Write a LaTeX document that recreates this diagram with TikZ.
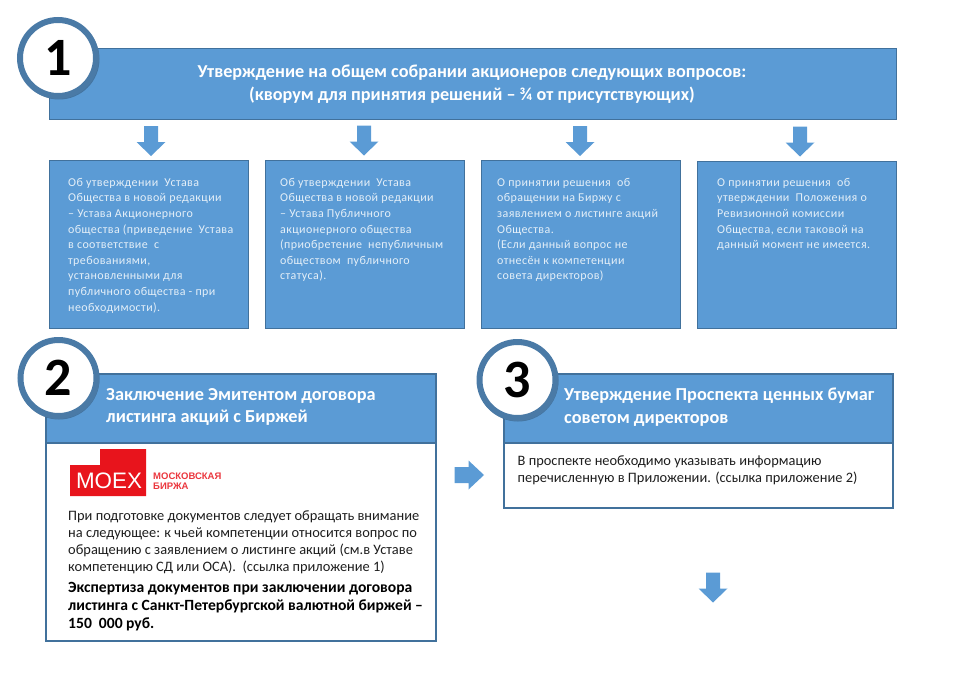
\documentclass[tikz,border=0pt]{standalone}
\usepackage{fontspec}
\setmainfont{Carlito}
\newfontfamily\spaced[LetterSpace=3.3]{Carlito}
\newfontfamily\logofont{Liberation Sans}
\definecolor{bluefill}{HTML}{5B9BD5}
\definecolor{blueedge}{HTML}{41719C}
\definecolor{ringblue}{HTML}{4A7AA6}
\definecolor{paletext}{HTML}{E4EFF8}
\definecolor{bodytext}{HTML}{1E1E1E}
\definecolor{moexred}{HTML}{E8141C}
\tikzset{
  bluebox/.style={rectangle,fill=bluefill,draw=blueedge,line width=.8pt,inner sep=0pt,anchor=north west},
  framebox/.style={rectangle,fill=white,draw=blueedge,line width=2.4pt,inner sep=0pt,anchor=north west},
  headbox/.style={rectangle,fill=bluefill,draw=blueedge,line width=2.4pt,inner sep=0pt,anchor=north west},
  ring/.style={circle,fill=white,draw=ringblue,line width=6pt,minimum size=76pt,inner sep=0pt,text=black,
     font=\fontsize{54}{54}\selectfont\bfseries},
  ringshadow/.style={circle,fill=blueedge!75!black,opacity=.55,minimum size=81pt,inner sep=0pt},
  head/.style={text=white,inner sep=0pt,align=left,anchor=north west,font=\fontsize{18.3}{22.5}\selectfont\bfseries},
  small/.style={text=paletext,inner sep=0pt,align=left,anchor=north west,font=\spaced\fontsize{12}{15.6}\selectfont},
  body/.style={text=bodytext,inner sep=0pt,align=left,anchor=north west,font=\fontsize{14.4}{17.3}\selectfont},
  boldbody/.style={text=black,inner sep=0pt,align=left,anchor=north west,font=\fontsize{15.6}{18}\selectfont\bfseries},
  downarrow/.pic={\fill[bluefill] (-7,-15) -- (7,-15) -- (7,1) -- (14.5,1) -- (0,15) -- (-14.5,1) -- (-7,1) -- cycle;},
  rightarrow/.pic={\fill[bluefill] (-15,-8) -- (-1,-8) -- (-1,-14.5) -- (14.5,0) -- (-1,14.5) -- (-1,8) -- (-15,8) -- cycle;},
}
\begin{document}
\begin{tikzpicture}[x=1pt,y=-1pt]
\useasboundingbox (0,0) rectangle (957,682);
% top bar
\node[bluebox,minimum width=847pt,minimum height=71pt] (bar) at (49,48) {};
\node[text=white,inner sep=0pt,align=center,font=\fontsize{18.2}{22.5}\selectfont\bfseries] (bartext) at (472,84)
  {Утверждение на общем собрании акционеров следующих вопросов:\\(кворум для принятия решений – ¾ от присутствующих)};
% small boxes
\node[bluebox,minimum width=199pt,minimum height=168pt] (b1) at (49,160) {};
\node[bluebox,minimum width=199pt,minimum height=168pt] (b2) at (265,160) {};
\node[bluebox,minimum width=199pt,minimum height=168pt] (b3) at (481,160) {};
\node[bluebox,minimum width=199pt,minimum height=167pt] (b4) at (697,161) {};
\node[small] (t1) at (68,178) {Об утверждении~~Устава\\Общества в новой~редакции\\– Устава Акционерного\\общества (приведение~~Устава\\в соответствие~~с\\требованиями,\\установленными для\\публичного общества~- при\\необходимости).};
\node[small] (t2) at (280,178) {Об утверждении~~Устава\\Общества в новой~редакции\\– Устава Публичного\\акционерного общества\\(приобретение~~непубличным\\обществом~~публичного\\статуса).};
\node[small] (t3) at (497,178) {О принятии решения~~об\\обращении на Биржу с\\заявлением о листинге акций\\Общества.\\(Если данный вопрос не\\отнесён к компетенции\\совета директоров)};
\node[small] (t4) at (717,178) {О принятии решения~~об\\утверждении~~Положения о\\Ревизионной комиссии\\Общества, если таковой на\\данный момент не имеется.};
% arrows
\pic (a1) at (151,141) {downarrow};
\pic (a2) at (364,140.5) {downarrow};
\pic (a3) at (580,141) {downarrow};
\pic (a4) at (800,141.5) {downarrow};
\pic (a5) at (469.5,475) {rightarrow};
\pic (a6) at (713,587.5) {downarrow};
% panel 2
\node[framebox,minimum width=390pt,minimum height=267.5pt] (p2) at (45,372.5) {};
\node[headbox,minimum width=390pt,minimum height=69.5pt] (h2) at (45,372.5) {};
\node[head] (h2t) at (106,388) {Заключение Эмитентом договора\\листинга акций с Биржей};
\fill[moexred] (70,465) -- (100,465) -- (100,449) -- (146,449) -- (146,496) -- (70,496) -- cycle;
\node[inner sep=0pt,text=white,font=\logofont\fontsize{22.4}{22.4}\selectfont] (moex) at (109,481) {MOEX};
\node[inner sep=0pt,text=moexred!85!white,align=left,anchor=west,font=\logofont\bfseries\fontsize{9.5}{10}\selectfont] (moextext) at (153,481) {МОСКОВСКАЯ\\БИРЖА};
\node[body] (p2t) at (68,510) {При подготовке документов следует обращать внимание\\на следующее: к чьей компетенции относится вопрос по\\обращению с заявлением о листинге акций (см.в Уставе\\компетенцию СД или ОСА).~~(ссылка приложение 1)};
\node[boldbody] (p2b) at (68,582) {Экспертиза документов при заключении договора\\листинга с Санкт-Петербургской валютной биржей –\\150~~000 руб.};
% panel 3
\node[framebox,minimum width=389pt,minimum height=134pt] (p3) at (503,372.5) {};
\node[headbox,minimum width=389pt,minimum height=69.5pt] (h3) at (503,372.5) {};
\node[head] (h3t) at (564,388) {Утверждение Проспекта ценных бумаг\\советом директоров};
\node[body] (p3t) at (517.5,455) {В проспекте необходимо указывать информацию\\перечисленную в Приложении. (ссылка приложение 2)};
% number circles
\node[ringshadow] (s1) at (59,59) {};
\node[ringshadow] (s2) at (59,379) {};
\node[ringshadow] (s3) at (518,381) {};
\node[ring] (c1) at (58,58) {1};
\node[ring] (c2) at (58.5,378) {\raisebox{-1pt}{2}};
\node[ring] (c3) at (517.5,380) {\raisebox{-2pt}{3}};
\end{tikzpicture}
\end{document}
